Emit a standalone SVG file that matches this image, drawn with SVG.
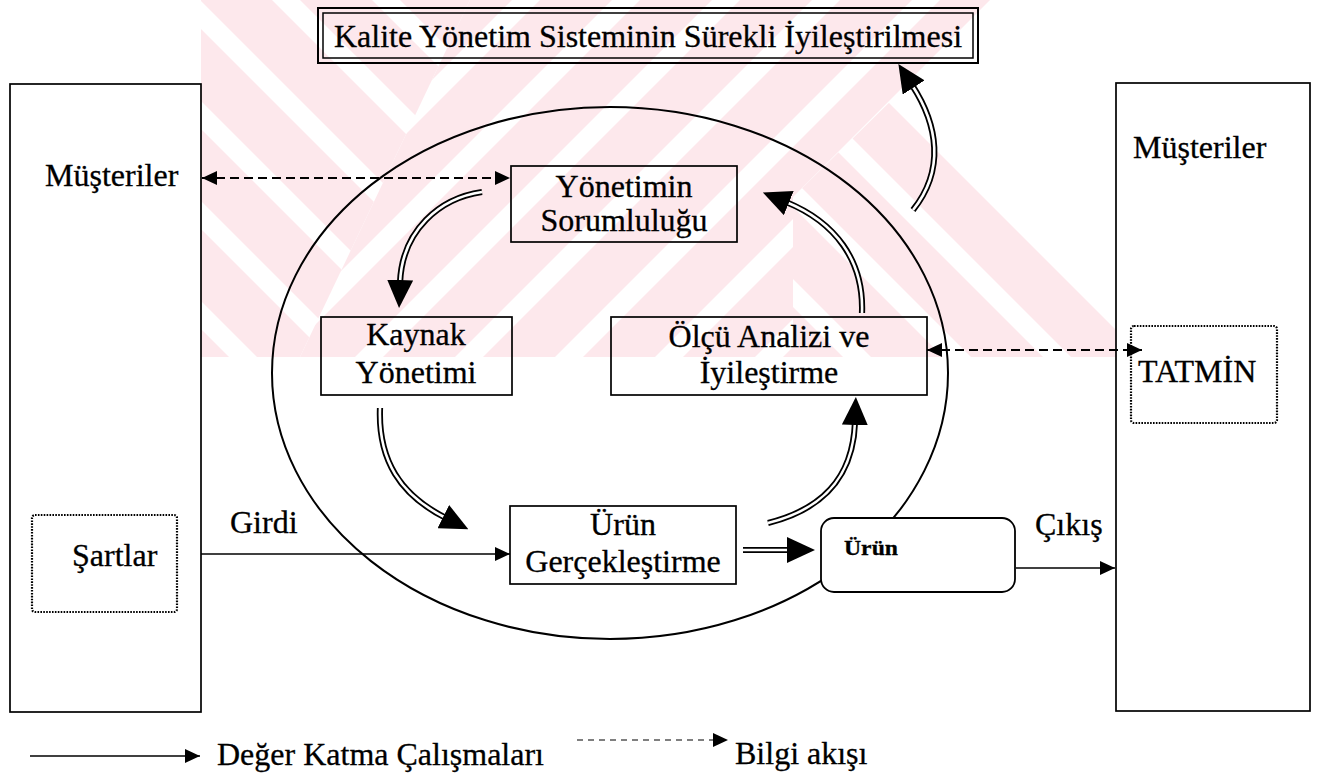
<svg xmlns="http://www.w3.org/2000/svg" width="1322" height="774" viewBox="0 0 1322 774">
  <defs>
    <style>
      text { font-family: "Liberation Serif", "Times New Roman", serif; font-size: 32px; fill: #000; stroke: #000; stroke-width: 0.3; }
      .c { text-anchor: middle; }
      .small { font-size: 22px; font-weight: bold; }
      .box { fill: none; stroke: #000; stroke-width: 1.7; }
      .dot { fill: none; stroke: #000; stroke-width: 2.2; stroke-dasharray: 1.6 1.3; }
      .info { fill: none; stroke: #000; stroke-width: 1.9; stroke-dasharray: 9 5; marker-start: url(#tri); marker-end: url(#tri); }
      .flow { fill: none; stroke: #000; stroke-width: 1.7; marker-end: url(#tri); }
      .dbl-o { fill: none; stroke: #000; stroke-width: 6.2; }
      .dbl-i { fill: none; stroke: #fff; stroke-width: 2.6; }
      .head { fill: none; stroke: none; marker-end: url(#big); }
    </style>
    <marker id="big" markerUnits="userSpaceOnUse" markerWidth="28" markerHeight="26" viewBox="0 0 28 26" refX="3" refY="13" orient="auto">
      <path d="M0,0 L28,13 L0,26 Z" fill="#000"/>
    </marker>
    <marker id="tri" markerUnits="userSpaceOnUse" markerWidth="15" markerHeight="14" viewBox="0 0 15 14" refX="15" refY="7" orient="auto-start-reverse">
      <path d="M0,0 L15,7 L0,14 Z" fill="#000"/>
    </marker>

    <!-- diagonal watermark bands: "\" and "/" tiles -->
    <pattern id="bandBack" patternUnits="userSpaceOnUse" x="0" y="0" width="100" height="100">
      <polygon points="0,0 72,0 100,28 100,100" fill="#fde8ec"/>
      <polygon points="0,28 72,100 0,100" fill="#fde8ec"/>
    </pattern>
    <pattern id="bandFwd" patternUnits="userSpaceOnUse" x="40" y="0" width="100" height="100">
      <polygon points="0,0 72,0 0,72" fill="#fde8ec"/>
      <polygon points="100,0 100,72 72,100 0,100" fill="#fde8ec"/>
    </pattern>
    <pattern id="bandBack2" patternUnits="userSpaceOnUse" x="14" y="0" width="100" height="100">
      <polygon points="0,0 72,0 100,28 100,100" fill="#fde8ec"/>
      <polygon points="0,28 72,100 0,100" fill="#fde8ec"/>
    </pattern>

    <!-- double-line cycle arrow paths (end at the arrowhead base) -->
    <path id="a1" d="M482,192 C440,198 402,230 400,283"/>
    <path id="a2" d="M380,408 C378,460 400,495 446,518"/>
    <path id="a3" d="M768,523 C820,510 853,480 855,422"/>
    <path id="a4" d="M862,313 C864,260 835,222 786,202"/>
    <path id="a5" d="M913,210 C945,170 938,125 912,85"/>
    <path id="a6" d="M743,550 L790,550"/>
  </defs>

  <rect width="1322" height="774" fill="#fff"/>

  <g id="watermark">
    <polygon points="201,0 470,0 300,357 201,357" fill="url(#bandBack)"/>
    <polygon points="470,0 990,0 793,197 793,357 300,357" fill="url(#bandFwd)"/>
    <polygon points="793,197 900,92 1116,308 1116,357 793,357" fill="url(#bandBack2)"/>
  </g>

  <g id="process-ellipse">
    <ellipse cx="610" cy="373" rx="338" ry="266" fill="none" stroke="#000" stroke-width="2"/>
  </g>

  <g id="title">
    <rect x="318" y="8" width="660" height="55" fill="none" stroke="#000" stroke-width="2"/>
    <rect x="323" y="13" width="650" height="45" fill="none" stroke="#000" stroke-width="1.5"/>
    <text class="c" x="648" y="47">Kalite Yönetim Sisteminin Sürekli İyileştirilmesi</text>
  </g>

  <g id="customers-left">
    <rect class="box" x="10" y="84" width="191" height="628"/>
    <text x="45" y="186">Müşteriler</text>
  </g>

  <g id="requirements">
    <rect class="dot" x="32" y="515" width="145" height="97" rx="3"/>
    <text x="72" y="566">Şartlar</text>
  </g>

  <g id="customers-right">
    <rect class="box" x="1116" y="83" width="194" height="628"/>
    <text x="1133" y="158">Müşteriler</text>
  </g>

  <g id="satisfaction">
    <rect class="dot" x="1131" y="326" width="146" height="97" rx="3"/>
    <text x="1138" y="382">TATMİN</text>
  </g>

  <g id="management">
    <rect class="box" x="511" y="166" width="226" height="76"/>
    <text class="c" x="624" y="197">Yönetimin</text>
    <text class="c" x="624" y="231">Sorumluluğu</text>
  </g>

  <g id="resources">
    <rect class="box" x="321" y="317" width="191" height="78"/>
    <text class="c" x="416" y="345">Kaynak</text>
    <text class="c" x="416" y="383">Yönetimi</text>
  </g>

  <g id="measurement">
    <rect class="box" x="611" y="317" width="316" height="78"/>
    <text class="c" x="769" y="347">Ölçü Analizi ve</text>
    <text class="c" x="769" y="383">İyileştirme</text>
  </g>

  <g id="realization">
    <rect class="box" x="510" y="506" width="226" height="78"/>
    <text class="c" x="623" y="535">Ürün</text>
    <text class="c" x="623" y="572">Gerçekleştirme</text>
  </g>

  <g id="product">
    <rect x="821" y="518" width="194" height="74" rx="13" fill="#fff" stroke="#000" stroke-width="1.8"/>
    <text class="small" x="844" y="555" textLength="54" lengthAdjust="spacingAndGlyphs">Ürün</text>
  </g>

  <g id="connectors">
    <!-- information flow (dashed, both ways) -->
    <line class="info" x1="202" y1="178" x2="510" y2="178"/>
    <line class="info" x1="927" y1="350" x2="1142" y2="350"/>

    <!-- value-adding flow -->
    <line class="flow" x1="201" y1="554" x2="510" y2="554"/>
    <text x="230" y="533">Girdi</text>
    <line class="flow" x1="1016" y1="568" x2="1115" y2="568"/>
    <text x="1035" y="535">Çıkış</text>

    <!-- double-line cycle arrows: outer black, inner white, then head -->
    <use href="#a1" class="dbl-o"/><use href="#a1" class="dbl-i"/><use href="#a1" class="head"/>
    <use href="#a2" class="dbl-o"/><use href="#a2" class="dbl-i"/><use href="#a2" class="head"/>
    <use href="#a3" class="dbl-o"/><use href="#a3" class="dbl-i"/><use href="#a3" class="head"/>
    <use href="#a4" class="dbl-o"/><use href="#a4" class="dbl-i"/><use href="#a4" class="head"/>
    <use href="#a5" class="dbl-o"/><use href="#a5" class="dbl-i"/><use href="#a5" class="head"/>
    <use href="#a6" class="dbl-o"/><use href="#a6" class="dbl-i"/><use href="#a6" class="head"/>
  </g>

  <g id="legend">
    <line class="flow" x1="30" y1="756" x2="200" y2="756"/>
    <text x="217" y="765">Değer Katma Çalışmaları</text>
    <line x1="577" y1="740" x2="728" y2="740" stroke="#000" stroke-width="1.2" stroke-dasharray="6 5" marker-end="url(#tri)"/>
    <text x="735" y="764">Bilgi akışı</text>
  </g>
</svg>
